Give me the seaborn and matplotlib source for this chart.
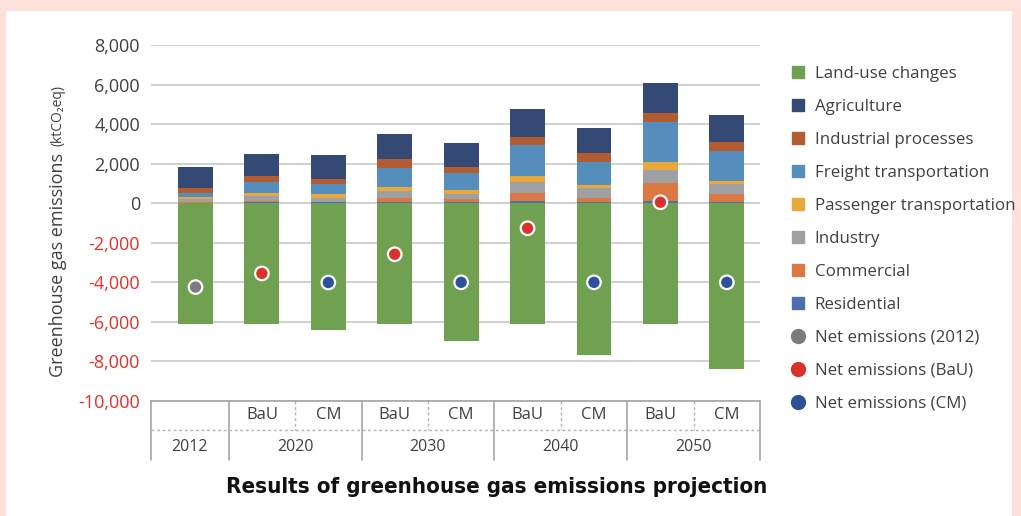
import numpy as np
import pandas as pd
import matplotlib
matplotlib.use('Agg')
import matplotlib.pyplot as plt
import seaborn as sns
from matplotlib.lines import Line2D
from matplotlib.patches import Rectangle

# data (ktCO2eq)
cases = ['2012', '2020 BaU', '2020 CM', '2030 BaU', '2030 CM',
         '2040 BaU', '2040 CM', '2050 BaU', '2050 CM']
scenario_labels = ['', 'BaU', 'CM', 'BaU', 'CM', 'BaU', 'CM', 'BaU', 'CM']
year_labels = ['2012', '2020', '2030', '2040', '2050']

residential = [20, 50, 50, 65, 65, 100, 65, 100, 65]
commercial = [60, 50, 30, 185, 135, 405, 185, 910, 390]
industry = [120, 255, 170, 355, 290, 555, 510, 675, 505]
passenger = [100, 150, 200, 205, 165, 305, 150, 390, 150]
freight = [200, 555, 500, 995, 860, 1565, 1165, 2035, 1520]
industrial_processes = [260, 305, 250, 420, 305, 405, 455, 440, 455]
agriculture = [1060, 1115, 1230, 1265, 1210, 1415, 1260, 1515, 1365]
land_use = [-6100, -6100, -6420, -6100, -6960, -6100, -7660, -6100, -8370]

net_emissions = [-4240, -3550, -4010, -2580, -4000, -1265, -4000, 50, -4000]
net_type = ['2012', 'BaU', 'CM', 'BaU', 'CM', 'BaU', 'CM', 'BaU', 'CM']

# stacking order from 0 upwards
layers = [
    ('Residential', residential, '#4A6EAF'),
    ('Commercial', commercial, '#DB7843'),
    ('Industry', industry, '#9FA0A3'),
    ('Passenger transportation', passenger, '#E9A93A'),
    ('Freight transportation', freight, '#558DBD'),
    ('Industrial processes', industrial_processes, '#B35C31'),
    ('Agriculture', agriculture, '#344A74'),
]
land_color = '#70A150'
net_colors = {'2012': '#7A7A80', 'BaU': '#D9312B', 'CM': '#2B5298'}

sns.set_theme(style='white')
plt.rcParams['font.family'] = ['Open Sans', 'DejaVu Sans']
txt_col = '#404040'

W, H = 1021, 516
fig = plt.figure(figsize=(W / 100, H / 100), dpi=100, facecolor='#FDE0DA')
fig.add_artist(Rectangle((6 / W, 0), (1012 - 6) / W, 1 - 11 / H,
                         transform=fig.transFigure, facecolor='white',
                         edgecolor='none', zorder=0))

ax_l, ax_r, ax_t, ax_b = 151, 760, 45, 401
ax = fig.add_axes([ax_l / W, 1 - ax_b / H, (ax_r - ax_l) / W, (ax_b - ax_t) / H])
ax.set_facecolor('none')

df = pd.DataFrame({'case': cases})
bar_w = 0.525

# land-use changes (negative)
sns.barplot(x=df['case'], y=land_use, order=cases, color=land_color,
            saturation=1, width=bar_w, errorbar=None, linewidth=0,
            edgecolor='none', ax=ax, zorder=2)

bottom = np.zeros(len(cases))
for name, vals, col in layers:
    sns.barplot(x=df['case'], y=vals, order=cases, color=col, saturation=1,
                width=bar_w, errorbar=None, bottom=bottom.copy(), linewidth=0,
                edgecolor='none', ax=ax, zorder=2)
    bottom += np.array(vals)

pos = np.arange(len(cases))
sns.scatterplot(x=pos, y=net_emissions, hue=net_type, palette=net_colors,
                s=95, edgecolor='white', linewidth=1.6, legend=False,
                ax=ax, zorder=4)

ax.set_xlim(-0.67, 8.5)
ax.set_ylim(-10000, 8000)
yt = list(range(-10000, 8001, 2000))
ax.set_yticks(yt)
ax.set_yticklabels([f'{v:,}' for v in yt], fontsize=13)
for lab, v in zip(ax.get_yticklabels(), yt):
    lab.set_color('#E0312A' if v < 0 else txt_col)
ax.tick_params(axis='y', length=0, pad=8)
ax.set_xticks([])
ax.set_xlabel('')
ax.set_ylabel('')
ax.yaxis.grid(True, color='#D0D0D0', lw=1.4)
ax.set_axisbelow(True)
for s in ['left', 'right', 'top']:
    ax.spines[s].set_visible(False)
ax.spines['bottom'].set_color('#A6A6A6')
ax.spines['bottom'].set_linewidth(1.2)

# category table below the axis
tr = ax.get_xaxis_transform()
row1 = -29 / (ax_b - ax_t)
row2 = -59 / (ax_b - ax_t)
line_kw = dict(transform=tr, clip_on=False, color='#A6A6A6', lw=1.2)
for x in [-0.67, 0.5, 2.5, 4.5, 6.5, 8.5]:
    ax.plot([x, x], [0, row2], **line_kw)
dash_kw = dict(transform=tr, clip_on=False, color='#B0B0B0', lw=1.0, ls=(0, (2, 2)))
for x in [1.5, 3.5, 5.5, 7.5]:
    ax.plot([x, x], [0, row1], **dash_kw)
ax.plot([-0.67, 8.5], [row1, row1], **dash_kw)
for x, lab in zip(pos, scenario_labels):
    if lab:
        ax.text(x, -14 / (ax_b - ax_t), lab, transform=tr, ha='center',
                va='center', fontsize=12, color=txt_col)
for x, lab in zip([-0.085, 1.5, 3.5, 5.5, 7.5], year_labels):
    ax.text(x, -46 / (ax_b - ax_t), lab, transform=tr, ha='center',
            va='center', fontsize=11.5, color=txt_col)

# y axis title
fig.text(58 / W, 1 - 265 / H, 'Greenhouse gas emissions', rotation=90,
         ha='center', va='center', fontsize=13, color=txt_col)
fig.text(58 / W, 1 - 115 / H, '(ktCO\u2082eq)', rotation=90, ha='center',
         va='center', fontsize=10, color=txt_col)

# legend
handles = [Line2D([], [], ls='none', marker='s', ms=9, color=land_color)]
labels = ['Land-use changes']
for name, vals, col in layers[::-1]:
    handles.append(Line2D([], [], ls='none', marker='s', ms=9, color=col))
    labels.append(name)
for k, lab in [('2012', 'Net emissions (2012)'), ('BaU', 'Net emissions (BaU)'),
               ('CM', 'Net emissions (CM)')]:
    handles.append(Line2D([], [], ls='none', marker='o', ms=10, color=net_colors[k]))
    labels.append(lab)
leg = fig.legend(handles, labels, loc='upper left',
                 bbox_to_anchor=(790 / W, 1 - 66 / H), frameon=False,
                 fontsize=12.2, labelspacing=1.0, handlelength=1.0,
                 handletextpad=0.45, borderpad=0, borderaxespad=0)
for t in leg.get_texts():
    t.set_color(txt_col)

fig.text(497 / W, 1 - 487 / H, 'Results of greenhouse gas emissions projection',
         ha='center', va='center', fontsize=16, fontweight='bold',
         fontstretch='condensed',
         family=['Liberation Sans Narrow', 'DejaVu Sans'], color='#111111')

fig.savefig('out.png', dpi=100, facecolor=fig.get_facecolor())
